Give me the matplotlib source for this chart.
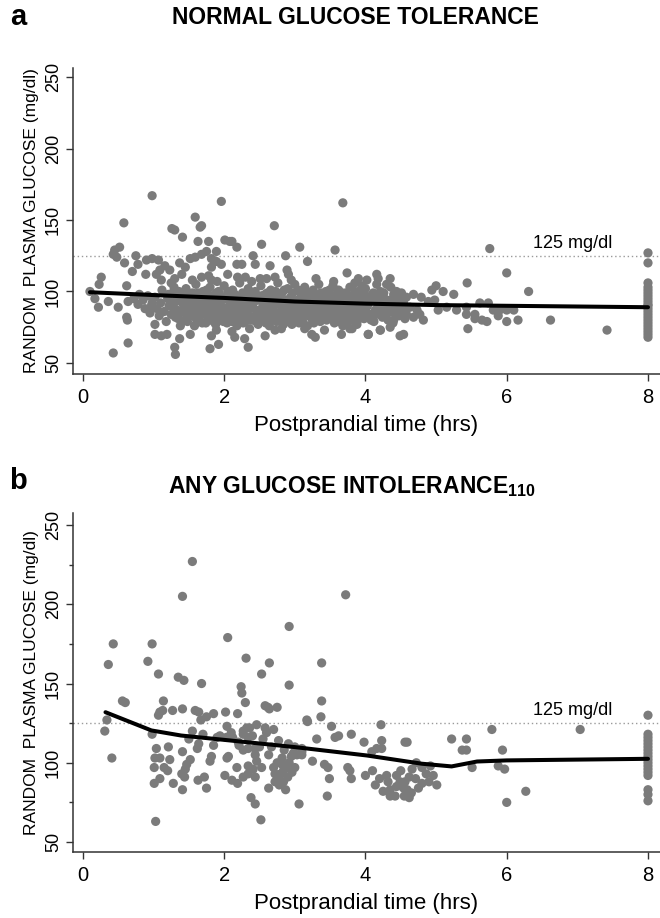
import matplotlib
matplotlib.use("Agg")
import matplotlib.pyplot as plt
import numpy as np

plt.rcParams['font.family'] = ['Liberation Sans', 'DejaVu Sans']
plt.rcParams['mathtext.fontset'] = 'custom'
plt.rcParams['mathtext.rm'] = 'Liberation Sans'
plt.rcParams['mathtext.bf'] = 'Liberation Sans:bold'

# ---------------- Panel a: normal glucose tolerance ----------------
ngt_sparse = [
    (0.10, 100), (0.17, 95), (0.22, 89), (0.23, 105), (0.26, 110), (0.36, 93),
    (0.43, 57), (0.43, 126), (0.45, 129), (0.48, 124), (0.50, 89), (0.52, 131),
    (0.58, 148), (0.59, 120), (0.62, 104), (0.62, 82), (0.63, 80), (0.64, 93),
    (0.64, 64), (0.70, 114), (0.75, 125), (0.78, 119), (0.78, 91), (0.88, 88),
    (0.89, 112), (0.90, 122), (0.97, 90), (0.98, 123), (0.98, 167), (1.02, 70),
    (1.02, 77), (1.04, 112), (1.07, 122), (1.09, 115), (1.11, 108), (1.11, 69),
    (1.16, 118), (1.19, 70), (1.23, 115), (1.26, 144), (1.30, 143), (1.30, 109),
    (1.30, 61), (1.31, 56), (1.37, 120), (1.37, 67), (1.40, 112), (1.41, 138),
    (1.45, 117), (1.52, 123), (1.52, 70), (1.59, 124), (1.59, 152), (1.63, 135),
    (1.66, 145), (1.68, 146), (1.68, 126), (1.68, 110), (1.75, 128), (1.78, 111),
    (1.78, 135), (1.80, 60), (1.82, 123), (1.82, 117), (1.82, 108), (1.82, 69),
    (1.89, 128), (1.89, 121), (1.89, 73), (1.92, 63), (1.96, 119), (1.96, 163),
    (2.01, 136), (2.08, 135), (2.11, 135), (2.11, 72), (2.15, 68), (2.18, 119),
    (2.18, 131), (2.19, 110), (2.25, 119), (2.29, 67), (2.34, 61), (2.39, 107),
    (2.41, 125), (2.44, 119), (2.51, 109), (2.53, 133), (2.58, 69), (2.65, 118),
    (2.71, 146), (2.72, 110), (2.72, 73), (2.81, 74), (2.87, 125), (2.89, 115),
    (2.91, 112), (2.96, 77), (3.07, 131), (3.14, 74), (3.18, 121), (3.24, 70),
    (3.29, 68), (3.57, 129), (3.66, 70), (3.68, 162), (3.74, 113), (3.81, 74),
    (3.90, 109), (3.95, 104), (4.04, 70), (4.16, 112), (4.18, 109), (4.16, 105),
    (4.21, 73), (4.35, 109), (4.35, 75), (4.49, 69),
]
ngt_dense = [
    (0.72, 95), (0.80, 98), (0.85, 94), (0.92, 97), (0.95, 85), (0.98, 92),
    (1.02, 96), (1.05, 88), (1.08, 83), (1.10, 92), (1.12, 101), (1.15, 86),
    (1.18, 79), (1.20, 95), (1.22, 90), (1.25, 84), (1.27, 99), (1.29, 103),
    (1.32, 93), (1.33, 87), (1.35, 81), (1.38, 76), (1.40, 97), (1.42, 91),
    (1.44, 85), (1.46, 102), (1.48, 79), (1.50, 95), (1.50, 88),
    (1.53, 83), (1.55, 99), (1.57, 92), (1.58, 76), (1.60, 105), (1.62, 87),
    (1.64, 81), (1.66, 96), (1.68, 90), (1.70, 100), (1.72, 84), (1.74, 78),
    (1.76, 94), (1.78, 88), (1.80, 103), (1.82, 82), (1.84, 97), (1.86, 91),
    (1.88, 77), (1.90, 86), (1.92, 100), (1.94, 80), (1.96, 94), (1.98, 89),
    (2.00, 104), (2.02, 84), (2.04, 78), (2.06, 97), (2.08, 91), (2.10, 86),
    (2.12, 101), (2.14, 81), (2.16, 95), (2.18, 76), (2.20, 89), (2.22, 106),
    (2.24, 83), (2.26, 99), (2.28, 93), (2.30, 79), (2.32, 87), (2.34, 102),
    (2.36, 74), (2.38, 96), (2.40, 90), (2.42, 82), (2.44, 100), (2.46, 85),
    (2.48, 77), (2.50, 94), (2.52, 104), (2.54, 88), (2.56, 80), (2.58, 98),
    (2.60, 92), (2.62, 84), (2.64, 76), (2.66, 101), (2.68, 89), (2.70, 95),
    (2.72, 82), (2.74, 79), (2.76, 106), (2.78, 91), (2.80, 86), (2.82, 99),
    (2.84, 77), (2.86, 93), (2.88, 83), (2.90, 102), (2.92, 88), (2.94, 96),
    (2.96, 80), (2.98, 90), (3.00, 105), (3.02, 85), (3.04, 94), (3.06, 78),
    (3.08, 99), (3.10, 89), (3.12, 83), (3.14, 103), (3.16, 92), (3.18, 76),
    (3.20, 97), (3.22, 87), (3.24, 81), (3.26, 101), (3.28, 94), (3.30, 90),
    (3.32, 84), (3.34, 105), (3.36, 79), (3.38, 96), (3.40, 88), (3.42, 73),
    (3.44, 100), (3.46, 92), (3.48, 82), (3.50, 97), (3.52, 86), (3.54, 104),
    (3.56, 78), (3.58, 93), (3.60, 89), (3.62, 101), (3.64, 82), (3.66, 95),
    (3.68, 76), (3.70, 91), (3.72, 99), (3.74, 85), (3.76, 80), (3.78, 103),
    (3.80, 94), (3.82, 88), (3.84, 97), (3.86, 83), (3.88, 77), (3.90, 100),
    (3.92, 91), (3.94, 86), (3.96, 95), (3.98, 81), (4.00, 102), (4.03, 90),
    (4.06, 84), (4.09, 97), (4.12, 79), (4.15, 93), (4.18, 88), (4.21, 100),
    (4.24, 82), (4.27, 95), (4.30, 91), (4.33, 86), (4.36, 103), (4.39, 78),
    (4.42, 96), (4.45, 89), (4.48, 83), (4.51, 99), (4.54, 92), (4.57, 86),
    (1.55, 108), (2.05, 112), (2.30, 110), (2.60, 109), (2.95, 108), (3.30, 109),
    (3.55, 107), (3.85, 106), (1.25, 106), (1.90, 107),
    (3.26, 80), (3.36, 84), (3.55, 89), (3.64, 84), (3.78, 80), (3.88, 91),
    (3.92, 84), (4.02, 108), (4.02, 96), (4.11, 82), (4.16, 94), (4.25, 89),
    (4.30, 105), (4.30, 84), (4.40, 98), (4.40, 80), (3.78, 74), (4.04, 70),
    (4.21, 73), (4.54, 70),
]
ngt_dense2 = [
    (1.21, 98), (1.24, 93), (1.28, 89), (1.31, 82), (1.34, 96), (1.36, 100),
    (1.39, 86), (1.43, 94), (1.45, 80), (1.49, 91), (1.51, 98), (1.54, 86),
    (1.56, 95), (1.59, 89), (1.61, 80), (1.63, 99), (1.65, 84), (1.67, 93),
    (1.69, 78), (1.71, 96), (1.73, 88), (1.75, 101), (1.77, 82), (1.79, 91),
    (1.81, 97), (1.83, 86), (1.85, 79), (1.87, 94), (1.89, 99), (1.91, 83),
    (1.93, 91), (1.95, 97), (1.97, 85), (1.99, 79), (2.01, 95), (2.03, 88),
    (2.05, 100), (2.07, 82), (2.09, 94), (2.11, 79), (2.13, 90), (2.15, 98),
    (2.17, 84), (2.19, 92), (2.21, 80), (2.23, 96), (2.25, 87), (2.27, 78),
    (2.29, 98), (2.31, 91), (2.33, 84), (2.35, 95), (2.37, 88), (2.39, 80),
    (2.41, 99), (2.43, 93), (2.45, 79), (2.47, 96), (2.49, 87), (2.51, 82),
    (2.53, 97), (2.55, 91), (2.57, 85), (2.59, 78), (2.61, 99), (2.63, 88),
    (2.65, 94), (2.67, 81), (2.69, 97), (2.71, 86), (2.73, 100), (2.75, 92),
    (2.77, 84), (2.79, 96), (2.81, 80), (2.83, 89), (2.85, 101), (2.87, 86),
    (2.89, 94), (2.91, 79), (2.93, 91), (2.95, 84), (2.97, 99), (2.99, 87),
    (3.01, 92), (3.03, 80), (3.05, 101), (3.07, 87), (3.09, 94), (3.11, 79),
    (3.13, 96), (3.15, 86), (3.17, 99), (3.19, 83), (3.21, 91), (3.23, 95),
    (3.25, 86), (3.27, 78), (3.29, 98), (3.31, 87), (3.33, 93), (3.35, 82),
    (3.37, 99), (3.39, 91), (3.41, 85), (3.43, 95), (3.45, 80), (3.47, 88),
    (3.49, 101), (3.51, 91), (3.53, 81), (3.55, 95), (3.57, 86), (3.59, 98),
    (3.61, 79), (3.63, 92), (3.65, 88), (3.67, 99), (3.69, 84), (3.71, 95),
    (3.73, 79), (3.75, 90), (3.77, 97), (3.79, 86), (3.81, 92), (3.83, 80),
    (3.85, 100), (3.87, 89), (3.89, 95), (3.91, 81), (3.93, 97), (3.95, 90),
    (3.97, 85), (3.99, 98), (4.01, 86), (4.05, 93), (4.08, 80), (4.11, 99),
    (4.14, 87), (4.17, 96), (4.20, 84), (4.23, 92), (4.26, 99), (4.29, 87),
    (4.32, 80), (4.35, 94), (4.38, 90), (4.41, 85), (4.44, 100), (4.47, 93),
    (4.50, 87), (4.53, 95), (4.56, 81),
]
ngt_late = [
    (4.49, 98), (4.58, 96), (4.68, 98), (4.79, 96), (4.89, 93), (4.49, 89),
    (4.63, 89), (4.73, 87), (4.58, 84), (4.68, 82), (4.77, 84), (4.82, 80),
    (4.94, 101), (5.00, 104), (5.10, 100), (5.25, 98), (4.98, 94), (5.03, 87),
    (5.15, 89), (5.29, 87), (5.43, 89), (5.43, 84), (5.55, 84), (5.62, 92),
    (5.74, 92), (5.81, 87), (5.90, 87), (6.00, 87), (6.10, 87), (5.88, 83),
    (5.55, 81), (5.65, 80), (5.72, 79), (6.00, 79), (6.16, 80), (5.45, 74),
    (5.44, 106), (5.76, 130), (6.00, 113), (6.31, 100), (6.62, 80), (7.42, 73),
]
ngt_8h = [127, 120, 106, 103, 101, 99, 97, 95, 93, 91, 90, 88, 86, 84, 82,
          80, 78, 76, 74, 72, 70, 68]
ngt_fit_t = [0.1, 1, 2, 3, 4, 5, 6, 7, 8]
ngt_fit_g = [99.5, 97.5, 95.5, 93, 91.5, 90.5, 90, 89.5, 89]

# ---------------- Panel b: any glucose intolerance ----------------
igt_points = [
    (1.55, 227), (1.41, 205), (3.72, 206), (2.92, 186), (2.05, 179), (0.43, 175),
    (0.98, 175), (2.31, 166), (0.36, 162), (0.92, 164), (2.64, 163), (3.38, 163),
    (1.07, 156), (2.53, 156), (1.35, 154), (1.43, 152), (1.68, 150), (2.92, 149),
    (2.24, 148), (2.25, 144), (0.56, 139), (0.60, 138), (1.14, 139), (3.38, 139),
    (2.30, 138), (2.58, 136), (2.62, 135), (1.41, 134), (1.27, 133), (1.13, 133),
    (1.59, 133), (1.64, 132), (1.85, 131), (2.02, 132), (2.19, 131), (2.64, 134),
    (2.75, 135), (1.09, 132), (1.07, 130), (1.75, 129), (3.37, 129), (3.17, 127),
    (3.18, 126), (1.67, 127), (0.34, 127), (0.31, 120), (0.41, 103), (0.98, 118),
    (2.04, 123), (2.32, 122), (2.46, 124), (2.58, 122), (3.52, 123), (4.22, 124),
    (2.27, 118), (2.34, 116), (2.55, 115), (2.91, 112), (3.31, 115), (3.57, 116),
    (3.62, 117), (3.80, 118), (3.98, 113), (4.09, 107), (4.16, 109), (4.23, 109),
    (4.56, 113), (1.04, 109), (1.21, 110), (1.02, 103), (1.09, 103), (1.23, 102),
    (1.41, 107), (1.64, 112), (1.82, 104), (1.80, 101), (2.04, 103), (2.06, 104),
    (2.44, 105), (2.46, 101), (2.63, 105), (2.82, 103), (3.03, 105), (3.10, 105),
    (3.25, 101), (1.01, 97), (1.15, 97), (1.20, 95), (1.52, 102), (1.47, 99),
    (1.45, 96), (1.40, 93), (1.44, 91), (1.01, 87), (1.09, 90), (1.28, 87),
    (1.41, 83), (1.63, 89), (1.72, 91), (1.75, 84), (2.01, 92), (2.11, 89),
    (2.19, 87), (2.27, 91), (2.34, 98), (2.41, 96), (2.44, 91), (2.18, 97),
    (2.34, 93), (2.53, 97), (2.63, 84), (2.87, 83), (2.38, 78), (2.44, 74),
    (3.06, 74), (2.52, 64), (1.03, 63), (3.42, 99), (3.47, 97), (3.49, 90),
    (3.46, 79), (3.75, 97), (3.78, 95), (3.80, 90), (4.00, 92), (4.14, 86),
    (4.30, 92), (4.32, 88), (4.44, 92), (4.49, 88), (4.54, 84), (4.42, 79),
    (2.70, 97), (2.72, 93), (2.76, 90), (2.80, 93), (2.84, 95), (2.88, 97),
    (2.92, 100), (2.95, 104), (2.72, 88), (2.78, 86), (2.84, 88), (2.90, 91),
    (2.96, 94), (3.00, 97), (2.75, 100), (2.82, 99),
    (1.55, 120), (1.70, 118), (1.90, 116), (2.10, 119), (2.20, 113), (2.40, 117),
    (2.50, 110), (2.60, 119), (2.70, 121), (2.85, 108), (3.00, 110), (3.10, 107),
    (1.50, 115), (1.62, 109), (1.85, 111), (1.94, 117), (2.03, 116), (2.12, 116),
    (2.27, 120), (2.36, 122), (2.21, 111), (2.34, 109), (2.44, 109), (2.27, 108),
    (2.67, 110), (2.77, 114), (2.98, 106), (3.10, 109),
    (4.23, 114), (4.59, 113), (4.80, 97), (4.92, 98), (4.71, 90), (4.56, 88),
    (4.44, 85), (4.59, 83), (4.80, 87), (5.01, 86), (4.65, 81), (4.72, 100),
    (4.10, 95), (4.20, 90), (4.25, 82), (4.35, 83), (4.50, 95), (4.62, 91),
    (4.66, 96), (4.86, 93), (4.90, 88), (4.96, 92), (4.75, 84), (4.55, 79),
    (4.35, 79), (4.62, 78),
    (5.22, 115), (5.43, 115), (5.37, 108), (5.43, 108), (5.51, 97), (5.79, 121),
    (5.94, 108), (5.88, 98), (5.97, 96), (6.00, 75), (6.27, 82), (7.04, 121),
]
igt_8h = [130, 118, 116, 114, 112, 110, 108, 106, 104, 102, 100, 98, 96, 94,
          92, 83, 80, 76]
igt_fit_t = [0.32, 0.97, 1.39, 1.99, 3.0, 4.02, 4.8, 5.22, 5.58, 6.0, 8.0]
igt_fit_g = [131.9, 120.4, 117.2, 114.5, 109.9, 104.6, 99.4, 97.7, 100.8, 101.5, 102.5]

threshold = 125
x_ticks = [0, 2, 4, 6, 8]
y_ticks = [50, 100, 150, 200, 250]

W, H = 660, 918
fig = plt.figure(figsize=(W / 100, H / 100), dpi=100)

dot_col = '#7b7b7b'


def fx(px):
    return px / W


def fy(py):
    return 1 - py / H


def make_panel(top, bottom, ylim, pts, col8, fit_t, fit_g, minor):
    ax = fig.add_axes([fx(73), fy(bottom), fx(660) - fx(73), (bottom - top) / H])
    xs = [p[0] for p in pts] + [8.0] * len(col8)
    ys = [p[1] for p in pts] + list(col8)
    ax.scatter(xs, ys, s=44, color=dot_col, edgecolors='none', zorder=2)
    ax.plot(fit_t, fit_g, color='black', lw=2.9, zorder=3, solid_capstyle='round')
    ax.axhline(threshold, color='#9a9a9a', lw=1.0, linestyle=(0, (1, 2)), zorder=1)
    ax.text(6.94, threshold + 2.5, '125 mg/dl', ha='center', va='bottom', fontsize=13)
    ax.set_xlim(-0.14, 8.17)
    ax.set_ylim(*ylim)
    ax.set_xticks(x_ticks)
    ax.set_yticks(y_ticks)
    if minor:
        ax.set_yticks([75, 125, 175, 225], minor=True)
        ax.tick_params(axis='y', which='minor', length=3, width=1, color='#333333')
    ax.tick_params(axis='x', labelsize=14.5, length=5, width=1, color='#333333', pad=5)
    ax.tick_params(axis='y', labelsize=13, length=5, width=1, color='#333333', pad=3)
    for lab in ax.get_yticklabels():
        lab.set_rotation(90)
        lab.set_va('center')
    for s in ['top', 'right']:
        ax.spines[s].set_visible(False)
    for s in ['left', 'bottom']:
        ax.spines[s].set_color('#333333')
        ax.spines[s].set_linewidth(1.1)
    ax.set_xlabel('Postprandial time (hrs)', fontsize=16, labelpad=6)
    ax.set_ylabel('RANDOM  PLASMA GLUCOSE (mg/dl)', fontsize=12.5, labelpad=4)
    return ax


ax_a = make_panel(68, 374, (42.3, 256.3), ngt_sparse + ngt_dense + ngt_dense2 + ngt_late,
                  ngt_8h, ngt_fit_t, ngt_fit_g, False)
ax_b = make_panel(513, 852, (43.7, 257.6), igt_points, igt_8h,
                  igt_fit_t, igt_fit_g, True)

fig.text(fx(18), fy(17), 'a', fontsize=21, fontweight='bold', ha='center', va='center')
fig.text(fx(355), fy(18), 'NORMAL GLUCOSE TOLERANCE', fontsize=16.5,
         fontweight='bold', ha='center', va='center')
fig.text(fx(18), fy(481), 'b', fontsize=21, fontweight='bold', ha='center', va='center')
fig.text(fx(352), fy(487), r'ANY GLUCOSE INTOLERANCE$_{\mathbf{110}}$', fontsize=16.5,
         fontweight='bold', ha='center', va='center')

fig.savefig('out.png', dpi=100, facecolor='white')
